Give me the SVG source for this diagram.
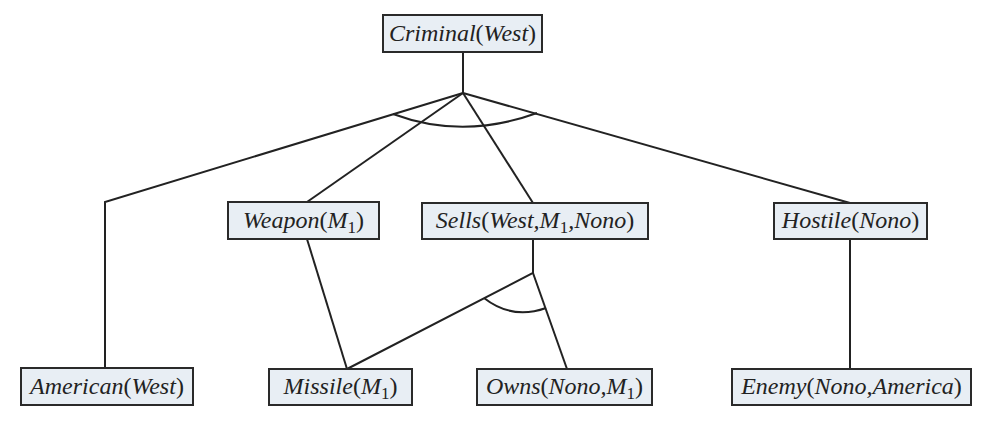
<svg xmlns="http://www.w3.org/2000/svg" width="999" height="424" viewBox="0 0 999 424">
<style>
.box{fill:#e8eef4;stroke:#2a2a2a;stroke-width:2}
.lbl{font-family:"Liberation Serif","Times New Roman",serif;font-size:24px;font-style:italic;fill:#222;text-anchor:middle}
.up{font-style:normal}
.sub{font-style:normal;font-size:17px}
.edge{fill:none;stroke:#222;stroke-width:2}
</style>
<rect width="999" height="424" fill="#fff"/>
<g id="connectors">
<path class="edge" d="M463,52 V93"/>
<path class="edge" d="M463,93 L105,202 V368"/>
<path class="edge" d="M463,93 L307,202"/>
<path class="edge" d="M463,93 L533,203"/>
<path class="edge" d="M463,93 L850,203"/>
<path class="edge" d="M393,114 Q463,140 537,113"/>
<path class="edge" d="M307,239 L347,369"/>
<path class="edge" d="M533,239 V273 L347,369"/>
<path class="edge" d="M533,273 L567,369"/>
<path class="edge" d="M484,298 Q512,320 546,308"/>
<path class="edge" d="M850,239 V369"/>
</g>
<g id="criminal"><rect class="box" x="383" y="15" width="159" height="37"/><text class="lbl" x="462.5" y="41">Criminal<tspan class="up">(</tspan>West<tspan class="up">)</tspan></text></g>
<g id="weapon"><rect class="box" x="228" y="202" width="151" height="37"/><text class="lbl" x="303.5" y="228">Weapon<tspan class="up">(</tspan>M<tspan class="sub" dy="5">1</tspan><tspan class="up" dy="-5">)</tspan></text></g>
<g id="sells"><rect class="box" x="422" y="203" width="226" height="36"/><text class="lbl" x="535" y="228">Sells<tspan class="up">(</tspan>West,M<tspan class="sub" dy="5">1</tspan><tspan dy="-5">,Nono</tspan><tspan class="up">)</tspan></text></g>
<g id="hostile"><rect class="box" x="774" y="203" width="153" height="36"/><text class="lbl" x="850.5" y="228">Hostile<tspan class="up">(</tspan>Nono<tspan class="up">)</tspan></text></g>
<g id="american"><rect class="box" x="21" y="368" width="172" height="37"/><text class="lbl" x="107" y="394">American<tspan class="up">(</tspan>West<tspan class="up">)</tspan></text></g>
<g id="missile"><rect class="box" x="269" y="369" width="143" height="36"/><text class="lbl" x="340.5" y="394">Missile<tspan class="up">(</tspan>M<tspan class="sub" dy="5">1</tspan><tspan class="up" dy="-5">)</tspan></text></g>
<g id="owns"><rect class="box" x="477" y="369" width="175" height="36"/><text class="lbl" x="564.5" y="394">Owns<tspan class="up">(</tspan>Nono,M<tspan class="sub" dy="5">1</tspan><tspan class="up" dy="-5">)</tspan></text></g>
<g id="enemy"><rect class="box" x="732" y="369" width="239" height="36"/><text class="lbl" x="851.5" y="394">Enemy<tspan class="up">(</tspan>Nono,America<tspan class="up">)</tspan></text></g>
</svg>
